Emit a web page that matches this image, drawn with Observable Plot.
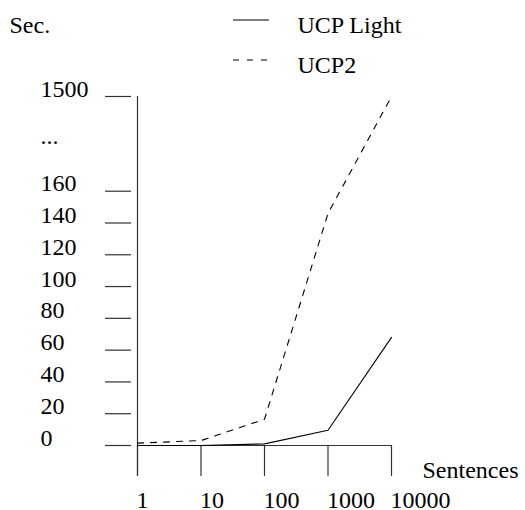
<!DOCTYPE html>
<html>
<head>
<meta charset="utf-8">
<script src="https://cdn.jsdelivr.net/npm/d3@7"></script>
<script src="https://cdn.jsdelivr.net/npm/@observablehq/plot@0.6"></script>
<style>
  html, body { margin: 0; padding: 0; background: #fff; }
  #chart { width: 525px; height: 510px; }
  #chart svg, #chart svg text { font-family: "Liberation Serif", "Times New Roman", serif !important; }
</style>
</head>
<body>
<div id="chart"></div>
<script>
// ---- data ----
const sentences = [1, 10, 100, 1000, 10000];
const xTickLabels = ["1", "10", "100", "1000", "10000"];
const ucpLight = [0, 0, 1, 9.6, 68];
const ucp2 = [1.5, 3.1, 16.5, 146, 1500];
const seriesNames = ["UCP Light", "UCP2"];
const yTicks = [0, 20, 40, 60, 80, 100, 120, 140, 160, 1500];
const yLabelValues = [0, 20, 40, 60, 80, 100, 120, 140, 160, 830, 1500];
const yLabelTexts = ["0", "20", "40", "60", "80", "100", "120", "140", "160", "...", "1500"];

const rows = [];
sentences.forEach((s, i) => {
  rows.push({x: s, y: ucpLight[i], series: seriesNames[0]});
  rows.push({x: s, y: ucp2[i], series: seriesNames[1]});
});

const W = 525, H = 510;
const mL = 137, mR = 134, mT = 96, mB = 65;
const font = "'Liberation Serif', 'Times New Roman', serif";
const axisColor = "#333";
const txt = {fontSize: 24, fontFamily: font, fill: "#000", textAnchor: "start", lineAnchor: "bottom"};

const chart = Plot.plot({
  width: W,
  height: H,
  marginLeft: mL,
  marginRight: mR,
  marginTop: mT,
  marginBottom: mB,
  style: {fontFamily: font, fontSize: "24px", background: "#fff", color: "#000", overflow: "visible"},
  x: {type: "log", domain: [1, 10000], range: [mL, W - mR], axis: null},
  y: {type: "linear", domain: [0, 160, 1500], range: [H - mB, H - mB - 254.3, mT], axis: null},
  marks: [
    // axes
    Plot.ruleX([1], {stroke: axisColor, strokeWidth: 1.2, insetBottom: -31}),
    Plot.ruleY([0], {stroke: axisColor, strokeWidth: 1.2}),
    Plot.axisX({anchor: "bottom", ticks: sentences, tickSize: 31, fill: "none", stroke: axisColor, strokeWidth: 1.2}),
    Plot.axisY({anchor: "left", ticks: yTicks, tickSize: 26, dx: -6, fill: "none", stroke: axisColor, strokeWidth: 1.2}),
    // tick labels
    Plot.text(yLabelValues, {...txt, y: d => d, text: (d, i) => yLabelTexts[i], frameAnchor: "left", dx: -97}),
    Plot.text(sentences, {...txt, x: d => d, text: (d, i) => xTickLabels[i], frameAnchor: "bottom", dx: -1, dy: 62}),
    // axis titles
    Plot.text(["Sentences"], {...txt, text: d => d, frameAnchor: "bottom-left", dx: 285, dy: 32}),
    Plot.text(["Sec."], {...txt, text: d => d, frameAnchor: "top-left", dx: -128, dy: -64}),
    // legend labels
    Plot.text([seriesNames[0]], {...txt, text: d => d, frameAnchor: "top-left", dx: 160, dy: -64}),
    Plot.text([seriesNames[1]], {...txt, text: d => d, frameAnchor: "top-left", dx: 160, dy: -24}),
    // data lines
    Plot.line(rows.filter(d => d.series === seriesNames[0]), {x: "x", y: "y", stroke: "#000", strokeWidth: 1.1}),
    Plot.line(rows.filter(d => d.series === seriesNames[1]), {x: "x", y: "y", stroke: "#000", strokeWidth: 1.1, strokeDasharray: "6,7"})
  ]
});

// legend swatches
const svg = d3.select(chart);
svg.append("line").attr("x1", 233).attr("x2", 269).attr("y1", 20).attr("y2", 20)
  .attr("stroke", "#000").attr("stroke-width", 1.1);
svg.append("line").attr("x1", 233).attr("x2", 269).attr("y1", 60).attr("y2", 60)
  .attr("stroke", "#000").attr("stroke-width", 1.1).attr("stroke-dasharray", "6,8");

document.getElementById("chart").appendChild(chart);
</script>
</body>
</html>
